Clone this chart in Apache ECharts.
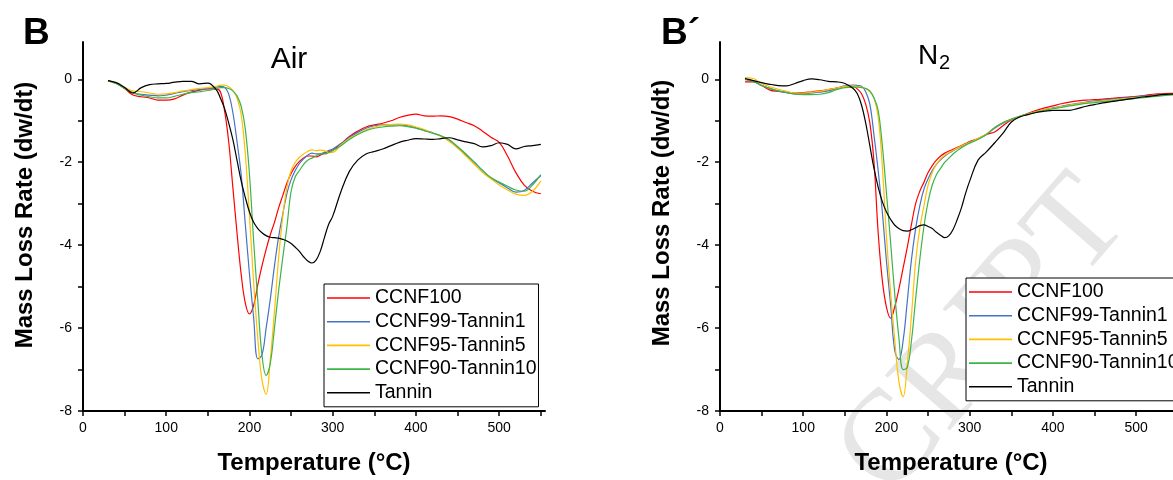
<!DOCTYPE html>
<html>
<head>
<meta charset="utf-8">
<script src="https://cdn.jsdelivr.net/npm/echarts@6.0.0/dist/echarts.min.js"></script>
<style>
html, body { margin: 0; padding: 0; background: #fff; overflow: hidden; }
#chart { width: 1200px; height: 480px; }
</style>
</head>
<body>
<div id="chart"></div>
<script>
// temperature grid (°C), shared by every curve
const temps = [30, 40, 50, 60, 70, 80, 90, 100, 110, 120, 130, 140, 150, 160,
  165, 170, 175, 180, 185, 190, 195, 200, 205, 210, 215, 220, 225, 230, 235, 240,
  245, 250, 255, 260, 265, 270, 275, 280, 285, 290, 295, 300,
  310, 320, 330, 340, 350, 360, 370, 380, 390, 400, 410, 420, 430, 440, 450,
  460, 470, 480, 490, 500, 510, 520, 530, 540, 550];

const seriesNames = ['CCNF100', 'CCNF99-Tannin1', 'CCNF95-Tannin5', 'CCNF90-Tannin10', 'Tannin'];
const seriesColors = ['#ff0000', '#4472c4', '#ffc000', '#3cb44b', '#000000'];

// Air
const airCcnf100 = [-0.03, -0.1, -0.22, -0.38, -0.42, -0.45, -0.5, -0.5, -0.47, -0.38, -0.31, -0.26, -0.23, -0.23,
  -0.3, -0.75, -1.5, -2.6, -3.7, -4.7, -5.4, -5.66, -5.45, -4.95, -4.5, -4.1, -3.75, -3.45, -3.1, -2.8,
  -2.5, -2.27, -2.1, -1.98, -1.9, -1.85, -1.85, -1.87, -1.83, -1.78, -1.74, -1.71,
  -1.55, -1.38, -1.25, -1.15, -1.1, -1.06, -1.0, -0.92, -0.87, -0.84, -0.88, -0.89, -0.88, -0.9, -0.96,
  -1.04, -1.12, -1.25, -1.4, -1.52, -1.85, -2.25, -2.55, -2.7, -2.76];
const airCcnf99 = [-0.03, -0.1, -0.2, -0.33, -0.36, -0.38, -0.4, -0.38, -0.34, -0.3, -0.27, -0.25, -0.22, -0.19,
  -0.17, -0.19, -0.35, -0.8, -1.5, -2.3, -3.5, -4.7, -5.75, -6.74, -6.65, -6.0, -5.3, -4.5, -3.8, -3.25,
  -2.75, -2.42, -2.2, -2.03, -1.92, -1.83, -1.78, -1.8, -1.8, -1.76, -1.72, -1.68,
  -1.55, -1.4, -1.28, -1.18, -1.12, -1.1, -1.1, -1.1, -1.12, -1.17, -1.23, -1.29, -1.37, -1.47, -1.65,
  -1.82, -2.0, -2.2, -2.38, -2.5, -2.62, -2.72, -2.68, -2.5, -2.32];
const airCcnf95 = [-0.03, -0.1, -0.2, -0.28, -0.3, -0.33, -0.36, -0.35, -0.32, -0.28, -0.25, -0.22, -0.2, -0.17,
  -0.14, -0.14, -0.18, -0.27, -0.45, -0.85, -1.8, -3.3, -4.9, -6.25, -7.25, -7.6, -6.75, -5.6, -4.3, -3.3,
  -2.6, -2.2, -2.0, -1.88, -1.8, -1.74, -1.7, -1.72, -1.71, -1.72, -1.76, -1.76,
  -1.58, -1.43, -1.32, -1.22, -1.15, -1.11, -1.09, -1.08, -1.1, -1.15, -1.21, -1.3, -1.37, -1.5, -1.66,
  -1.85, -2.05, -2.25, -2.4, -2.55, -2.67, -2.77, -2.8, -2.7, -2.45];
const airCcnf90 = [-0.03, -0.1, -0.22, -0.32, -0.38, -0.42, -0.45, -0.45, -0.41, -0.36, -0.32, -0.3, -0.27, -0.22,
  -0.2, -0.2, -0.22, -0.28, -0.4, -0.65, -1.2, -2.3, -3.9, -5.35, -6.65, -7.14, -6.85, -6.0, -5.1, -4.3,
  -3.55, -2.7, -2.35, -2.2, -2.05, -1.95, -1.9, -1.85, -1.8, -1.8, -1.77, -1.72,
  -1.6, -1.45, -1.33, -1.24, -1.18, -1.15, -1.13, -1.12, -1.14, -1.18, -1.24, -1.3, -1.36, -1.46, -1.62,
  -1.8, -2.0, -2.2, -2.37, -2.48, -2.58, -2.67, -2.7, -2.55, -2.3];
const airTannin = [-0.03, -0.08, -0.2, -0.33, -0.2, -0.13, -0.11, -0.1, -0.07, -0.05, -0.05, -0.11, -0.09, -0.25,
  -0.45, -0.7, -1.05, -1.45, -1.95, -2.45, -2.85, -3.2, -3.45, -3.6, -3.7, -3.77, -3.81, -3.82, -3.83, -3.86,
  -3.9, -3.96, -4.05, -4.15, -4.28, -4.38, -4.43, -4.36, -4.15, -3.82, -3.5, -3.3,
  -2.7, -2.22, -1.95, -1.8, -1.74, -1.68, -1.6, -1.52, -1.47, -1.43, -1.44, -1.45, -1.43, -1.41, -1.46,
  -1.51, -1.55, -1.63, -1.6, -1.53, -1.57, -1.68, -1.62, -1.6, -1.57];

// N2
const n2Ccnf100 = [-0.06, -0.06, -0.15, -0.26, -0.29, -0.31, -0.33, -0.32, -0.3, -0.28, -0.25, -0.21, -0.17, -0.18,
  -0.23, -0.35, -0.6, -1.05, -2.0, -3.7, -4.85, -5.5, -5.76, -5.48, -5.05, -4.55, -4.05, -3.5, -3.0, -2.7,
  -2.48, -2.25, -2.08, -1.95, -1.85, -1.78, -1.73, -1.69, -1.64, -1.6, -1.55, -1.5,
  -1.43, -1.33, -1.27, -1.12, -0.98, -0.9, -0.82, -0.75, -0.69, -0.64, -0.59, -0.55, -0.52, -0.5, -0.49,
  -0.48, -0.46, -0.44, -0.43, -0.41, -0.39, -0.36, -0.35, -0.34, -0.34];
const n2Ccnf99 = [0.0, -0.05, -0.15, -0.22, -0.28, -0.32, -0.35, -0.35, -0.33, -0.31, -0.28, -0.22, -0.16, -0.14,
  -0.15, -0.17, -0.3, -0.6, -1.35, -2.2, -3.2, -4.4, -5.45, -6.55, -6.76, -6.3, -5.35, -4.35, -3.6, -3.05,
  -2.65, -2.4, -2.2, -2.05, -1.94, -1.85, -1.78, -1.72, -1.67, -1.62, -1.57, -1.52,
  -1.44, -1.33, -1.18, -1.06, -0.97, -0.9, -0.84, -0.78, -0.73, -0.69, -0.65, -0.61, -0.58, -0.55, -0.52,
  -0.5, -0.48, -0.46, -0.44, -0.42, -0.4, -0.39, -0.37, -0.36, -0.35];
const n2Ccnf95 = [0.04, 0.02, -0.1, -0.18, -0.24, -0.29, -0.33, -0.33, -0.31, -0.29, -0.25, -0.21, -0.17, -0.16,
  -0.17, -0.19, -0.22, -0.3, -0.45, -0.9, -2.1, -3.8, -5.15, -6.3, -7.3, -7.66, -6.85, -5.7, -4.4, -3.6,
  -3.05, -2.55, -2.25, -2.05, -1.92, -1.83, -1.77, -1.71, -1.66, -1.61, -1.56, -1.52,
  -1.43, -1.32, -1.16, -1.04, -0.96, -0.89, -0.83, -0.78, -0.73, -0.7, -0.66, -0.62, -0.59, -0.56, -0.54,
  -0.52, -0.5, -0.48, -0.46, -0.44, -0.42, -0.4, -0.38, -0.37, -0.36];
const n2Ccnf90 = [0.0, -0.05, -0.15, -0.22, -0.28, -0.32, -0.36, -0.37, -0.37, -0.36, -0.32, -0.25, -0.2, -0.19,
  -0.19, -0.2, -0.22, -0.28, -0.45, -0.75, -1.6, -2.75, -3.95, -5.2, -6.25, -7.0, -6.95, -6.3, -5.3, -4.35,
  -3.55, -2.95, -2.55, -2.3, -2.15, -2.0, -1.9, -1.8, -1.72, -1.65, -1.59, -1.54,
  -1.45, -1.33, -1.16, -1.04, -0.96, -0.89, -0.84, -0.79, -0.75, -0.71, -0.68, -0.64, -0.61, -0.58, -0.56,
  -0.54, -0.52, -0.5, -0.48, -0.46, -0.44, -0.42, -0.4, -0.38, -0.36];
const n2Tannin = [0.02, -0.03, -0.08, -0.12, -0.15, -0.16, -0.1, -0.03, 0.01, -0.01, -0.05, -0.06, -0.1, -0.22,
  -0.35, -0.62, -1.05, -1.6, -2.15, -2.6, -2.95, -3.2, -3.38, -3.52, -3.6, -3.65, -3.66, -3.63, -3.58, -3.53,
  -3.51, -3.55, -3.6, -3.69, -3.76, -3.82, -3.77, -3.62, -3.38, -3.1, -2.75, -2.45,
  -1.95, -1.75, -1.53, -1.3, -1.03, -0.91, -0.85, -0.8, -0.77, -0.75, -0.75, -0.75, -0.7, -0.65, -0.61,
  -0.57, -0.54, -0.51, -0.48, -0.45, -0.42, -0.4, -0.37, -0.36, -0.35];

const airData = [airCcnf100, airCcnf99, airCcnf95, airCcnf90, airTannin];
const n2Data = [n2Ccnf100, n2Ccnf99, n2Ccnf95, n2Ccnf90, n2Tannin];

// axis ticks and labels
const xTicks = [0, 50, 100, 150, 200, 250, 300, 350, 400, 450, 500, 550];
const xLabels = [0, 100, 200, 300, 400, 500];
const yTicks = [-8, -7, -6, -5, -4, -3, -2, -1, 0];
const yLabels = [-8, -6, -4, -2, 0];

const font = '"Liberation Sans", Arial, sans-serif';
const chart = echarts.init(document.getElementById('chart'));

function xAxisFor(idx) {
  return {
    type: 'value', gridIndex: idx, min: 0, max: 555,
    name: 'Temperature (°C)', nameLocation: 'middle', nameGap: 40,
    nameTextStyle: { fontSize: 24, fontWeight: 'bold', color: '#000', fontFamily: font },
    axisLine: { onZero: false, lineStyle: { color: '#000', width: 2 } },
    axisTick: { show: true, length: 5, customValues: xTicks, lineStyle: { color: '#000', width: 1.5 } },
    axisLabel: { customValues: xLabels, margin: 10, fontSize: 14, color: '#000', fontFamily: font },
    splitLine: { show: false }
  };
}

function yAxisFor(idx) {
  return {
    type: 'value', gridIndex: idx, min: -8, max: 0.9,
    axisLine: { show: true, onZero: false, lineStyle: { color: '#000', width: 2 } },
    axisTick: { show: true, length: 5, customValues: yTicks, lineStyle: { color: '#000', width: 1.5 } },
    axisLabel: { customValues: yLabels, margin: 11, fontSize: 14, color: '#000', fontFamily: font },
    splitLine: { show: false }
  };
}

// legend with plain line icons
function legendFor(left, top) {
  return {
    orient: 'vertical', left: left, top: top,
    data: seriesNames,
    icon: 'rect', itemWidth: 43, itemHeight: 1.6, itemGap: 3.7,
    padding: [4, 2, 4, 3],
    borderColor: '#000', borderWidth: 1, backgroundColor: '#fff',
    textStyle: { fontSize: 19.5, color: '#000', fontFamily: font, lineHeight: 18 }
  };
}

const series = [];
[airData, n2Data].forEach((group, g) => {
  group.forEach((vals, i) => {
    series.push({
      name: seriesNames[i], type: 'line',
      xAxisIndex: g, yAxisIndex: g,
      data: temps.map((t, k) => [t, vals[k]]),
      showSymbol: false, symbol: 'none', smooth: 0.4,
      lineStyle: { color: seriesColors[i], width: 1.2 },
      itemStyle: { color: seriesColors[i] }
    });
  });
});

chart.setOption({
  animation: false,
  backgroundColor: '#fff',
  grid: [
    { left: 83, top: 42, width: 462, height: 374 },
    { left: 720, top: 42, width: 462, height: 374 }
  ],
  xAxis: [xAxisFor(0), xAxisFor(1)],
  yAxis: [yAxisFor(0), yAxisFor(1)],
  legend: [legendFor(324, 284), legendFor(966, 278)],
  graphic: [
    // watermark
    { type: 'text', x: 985, y: 338, rotation: 49 * Math.PI / 180, z: -10, silent: true,
      style: { text: 'CRIPT', fontFamily: '"Liberation Serif", serif', fontSize: 130, fill: '#e6e6e6',
        align: 'center', verticalAlign: 'middle' } },
    { type: 'text', x: 23, y: 34,
      style: { text: 'B', fontSize: 37, fontWeight: 'bold', fontFamily: font, fill: '#000',
        align: 'left', verticalAlign: 'middle' } },
    { type: 'text', x: 661, y: 34,
      style: { text: 'B\u00b4', fontSize: 37, fontWeight: 'bold', fontFamily: font, fill: '#000',
        align: 'left', verticalAlign: 'middle' } },
    { type: 'text', x: 289, y: 60,
      style: { text: 'Air', fontSize: 30, fontFamily: font, fill: '#000',
        align: 'center', verticalAlign: 'middle' } },
    { type: 'text', x: 918, y: 56,
      style: { text: 'N', fontSize: 28, fontFamily: font, fill: '#000',
        align: 'left', verticalAlign: 'middle' } },
    { type: 'text', x: 939, y: 63,
      style: { text: '2', fontSize: 20, fontFamily: font, fill: '#000',
        align: 'left', verticalAlign: 'middle' } },
    { type: 'text', x: 25, y: 215, rotation: Math.PI / 2,
      style: { text: 'Mass Loss Rate (dw/dt)', fontSize: 24, fontWeight: 'bold', fontFamily: font, fill: '#000',
        align: 'center', verticalAlign: 'middle' } },
    { type: 'text', x: 662, y: 213, rotation: Math.PI / 2,
      style: { text: 'Mass Loss Rate (dw/dt)', fontSize: 24, fontWeight: 'bold', fontFamily: font, fill: '#000',
        align: 'center', verticalAlign: 'middle' } }
  ],
  series: series
});
</script>
</body>
</html>
